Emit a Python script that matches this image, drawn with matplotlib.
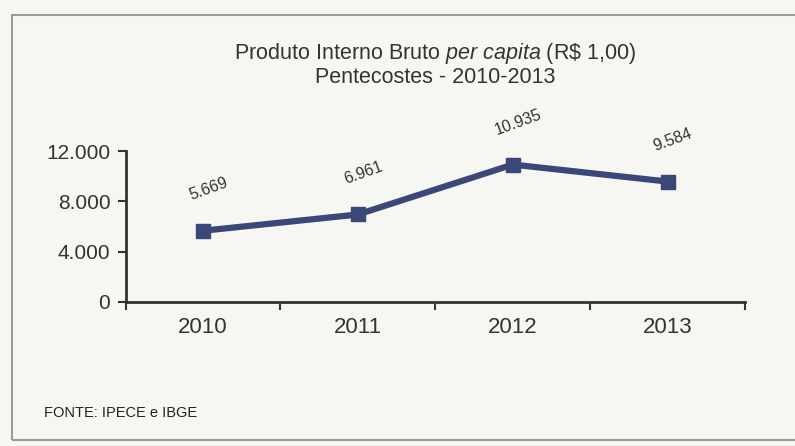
import matplotlib.pyplot as plt
from matplotlib.patches import Rectangle

plt.rcParams["font.family"] = ["Liberation Sans", "DejaVu Sans"]
plt.rcParams["mathtext.fontset"] = "custom"
plt.rcParams["mathtext.it"] = "Liberation Sans:italic"
plt.rcParams["mathtext.rm"] = "Liberation Sans"

# --- Data ---
years = ["2010", "2011", "2012", "2013"]
pib_per_capita = [5669, 6961, 10935, 9584]
value_labels = ["5.669", "6.961", "10.935", "9.584"]
y_ticks = [0, 4000, 8000, 12000]
y_tick_labels = ["0", "4.000", "8.000", "12.000"]

line_color = "#3b4778"
text_color = "#333333"

fig = plt.figure(figsize=(7.95, 4.46), dpi=100)
fig.patch.set_facecolor("#f6f6f3")

# outer frame of the scanned box
fig.patches.append(Rectangle((12 / 795, 6 / 446), 790 / 795, 425 / 446,
                             transform=fig.transFigure, fill=False,
                             edgecolor="#9a9a9a", linewidth=1.5))

ax = fig.add_axes([0.158, 0.323, 0.779, 0.338])
ax.set_facecolor("none")

x = list(range(len(years)))
ax.plot(x, pib_per_capita, color=line_color, linewidth=4.5,
        marker="s", markersize=10, markerfacecolor=line_color,
        markeredgecolor=line_color)

for xi, v, lab in zip(x, pib_per_capita, value_labels):
    ax.annotate(lab, (xi, v), xytext=(4, 30), textcoords="offset points",
                ha="center", va="center", rotation=20, fontsize=11.5,
                color=text_color)

# --- Axes formatting ---
ax.set_xlim(-0.5, 3.5)
ax.set_ylim(0, 12000)
ax.set_yticks(y_ticks)
ax.set_yticklabels(y_tick_labels)
ax.set_xticks(x)
ax.set_xticklabels(years)
ax.set_xticks([-0.5, 0.5, 1.5, 2.5, 3.5], minor=True)
ax.tick_params(axis="x", which="major", length=0, pad=11,
               labelsize=16, labelcolor=text_color)
ax.tick_params(axis="x", which="minor", length=6, width=1.5,
               color="#333333")
ax.tick_params(axis="y", length=6, width=1.5, color="#333333",
               labelsize=15, labelcolor=text_color, pad=5)

for side in ["top", "right"]:
    ax.spines[side].set_visible(False)
for side in ["left", "bottom"]:
    ax.spines[side].set_linewidth(2)
    ax.spines[side].set_color("#333333")

# --- Title and source ---
fig.text(0.547, 0.879, "Produto Interno Bruto $\\it{per\\ capita}$ (R\\$ 1,00)",
         ha="center", va="center", fontsize=15.5, color=text_color)
fig.text(0.547, 0.826, "Pentecostes - 2010-2013",
         ha="center", va="center", fontsize=15.5, color=text_color)
fig.text(0.055, 0.075, "FONTE: IPECE e IBGE", ha="left", va="center",
         fontsize=10.5, color="#222222")

plt.savefig("out.png", dpi=100, facecolor=fig.get_facecolor())
